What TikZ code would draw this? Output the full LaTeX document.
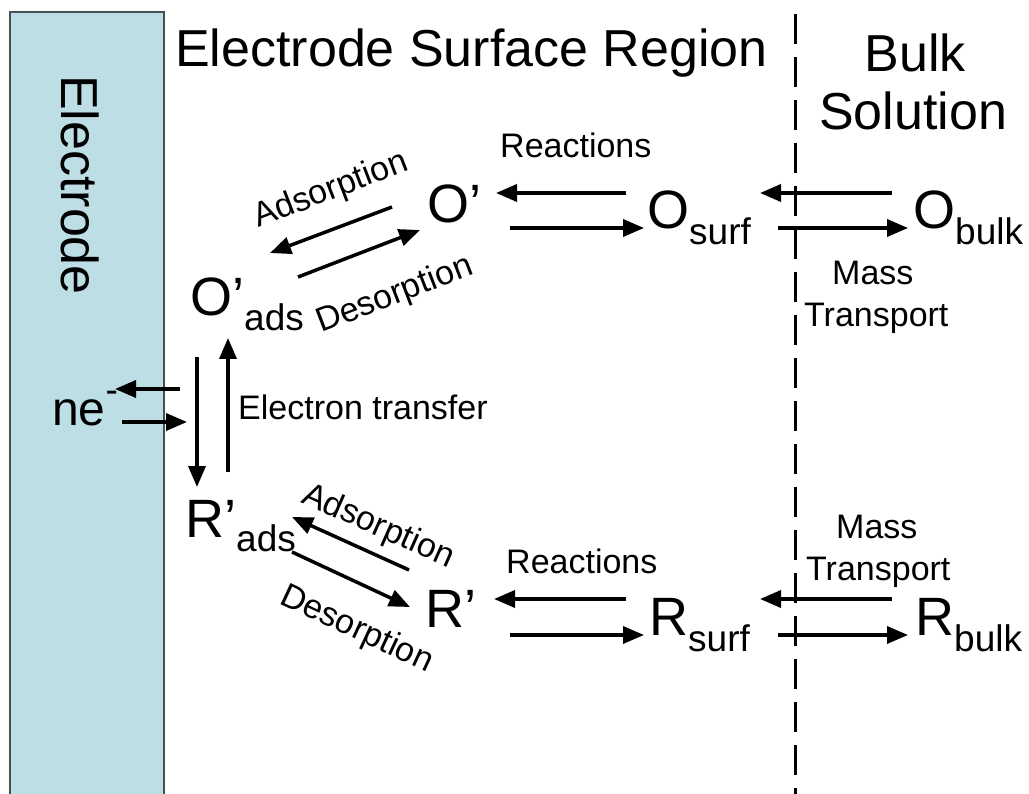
\documentclass[tikz,border=0pt]{standalone}
\usepackage{fontspec}
\setmainfont{Liberation Sans}
\usetikzlibrary{arrows.meta}
\definecolor{elec}{RGB}{188,222,228}
\definecolor{elecborder}{RGB}{70,80,82}
\newcommand\fbig{\fontsize{54}{60}\selectfont}
\newcommand\fsub{\fontsize{37}{44}\selectfont}
\newcommand\flab{\fontsize{34}{40}\selectfont}
\newcommand\ftitle{\fontsize{52}{60}\selectfont}
\begin{document}
\begin{tikzpicture}[x=1pt,y=-1pt,
  arr/.style={line width=3.5pt,-{Triangle[length=21pt,width=17pt]}},
  lab/.style={inner sep=0,anchor=base west,font=\flab},
  spec/.style={inner sep=0,anchor=base west},
  ttl/.style={inner sep=0,anchor=base,font=\ftitle}]
\useasboundingbox (0,0) rectangle (1029,794);
\fill[white] (0,0) rectangle (1029,794);
% electrode
\draw[fill=elec,draw=elecborder,line width=1.5pt] (10,12) rectangle (164,810);
\node[inner sep=0,rotate=-90,font=\ftitle] (electrode) at (80,185) {Electrode};
% divider
\coordinate (dtop) at (795,14);
\coordinate (dbot) at (795,800);
\draw[line width=3pt,dash pattern=on 30pt off 13pt] (dtop) -- (dbot);
% titles
\node[inner sep=0,anchor=base west,font=\ftitle] (region) at (175,67) {Electrode Surface Region};
\node[ttl] (bulk) at (915,72) {Bulk};
\node[ttl] (solution) at (913,130) {Solution};
% species
\node[spec] (oprime) at (427,223) {\fbig O’};
\node[spec] (oads) at (190,316) {\fbig O’\raisebox{-15pt}{\fsub ads}};
\node[spec] (osurf) at (647,229) {\fbig O\raisebox{-16pt}{\fsub surf}};
\node[spec] (obulk) at (913,229) {\fbig O\raisebox{-16pt}{\fsub bulk}};
\node[spec] (rads) at (185,537) {\fbig R’\raisebox{-14pt}{\fsub ads}};
\node[spec] (rprime) at (425,627) {\fbig R’};
\node[spec] (rsurf) at (649,635) {\fbig R\raisebox{-16pt}{\fsub surf}};
\node[spec] (rbulk) at (915,635) {\fbig R\raisebox{-16pt}{\fsub bulk}};
\node[spec] (ne) at (52,425) {\fontsize{48}{56}\selectfont ne\raisebox{22pt}{\fsub -}};
% labels
\node[lab] (lreac1) at (500,158) {Reactions};
\node[lab] (lmass1) at (832,285) {Mass};
\node[lab] (ltrans1) at (804,327) {Transport};
\node[lab] (lreac2) at (506,573) {Reactions};
\node[lab] (lmass2) at (836,538) {Mass};
\node[lab] (ltrans2) at (806,580) {Transport};
\node[lab] (let) at (238,420) {Electron transfer};
\node[lab,rotate=21] (lads1) at (258,228) {Adsorption};
\node[lab,rotate=21] (ldes1) at (321,333) {Desorption};
\node[lab,rotate=-24] (lads2) at (300,502) {Adsorption};
\node[lab,rotate=-25] (ldes2) at (278,603) {Desorption};
% arrow end points
\coordinate (a1s) at (392,207); \coordinate (a1e) at (270,253);
\coordinate (d1s) at (298,277); \coordinate (d1e) at (420,230);
\coordinate (a2s) at (409,570); \coordinate (a2e) at (292,517);
\coordinate (d2s) at (292,552); \coordinate (d2e) at (410,607);
\coordinate (etds) at (197,357); \coordinate (etde) at (197,487);
\coordinate (etus) at (228,472); \coordinate (etue) at (228,338);
\coordinate (neos) at (180,389); \coordinate (neoe) at (115,389);
\coordinate (neis) at (122,422); \coordinate (neie) at (187,422);
\coordinate (r1ls) at (626,193); \coordinate (r1le) at (496,193);
\coordinate (r1rs) at (510,228); \coordinate (r1re) at (644,228);
\coordinate (m1ls) at (892,193); \coordinate (m1le) at (760,193);
\coordinate (m1rs) at (778,228); \coordinate (m1re) at (908,228);
\coordinate (r2ls) at (626,599); \coordinate (r2le) at (494,599);
\coordinate (r2rs) at (510,635); \coordinate (r2re) at (644,635);
\coordinate (m2ls) at (892,599); \coordinate (m2le) at (760,599);
\coordinate (m2rs) at (778,635); \coordinate (m2re) at (908,635);
% arrows
\draw[arr] (a1s) -- (a1e);
\draw[arr] (d1s) -- (d1e);
\draw[arr] (a2s) -- (a2e);
\draw[arr] (d2s) -- (d2e);
\draw[arr] (etds) -- (etde);
\draw[arr] (etus) -- (etue);
\draw[arr] (neos) -- (neoe);
\draw[arr] (neis) -- (neie);
\draw[arr] (r1ls) -- (r1le);
\draw[arr] (r1rs) -- (r1re);
\draw[arr] (m1ls) -- (m1le);
\draw[arr] (m1rs) -- (m1re);
\draw[arr] (r2ls) -- (r2le);
\draw[arr] (r2rs) -- (r2re);
\draw[arr] (m2ls) -- (m2le);
\draw[arr] (m2rs) -- (m2re);
\end{tikzpicture}
\end{document}
